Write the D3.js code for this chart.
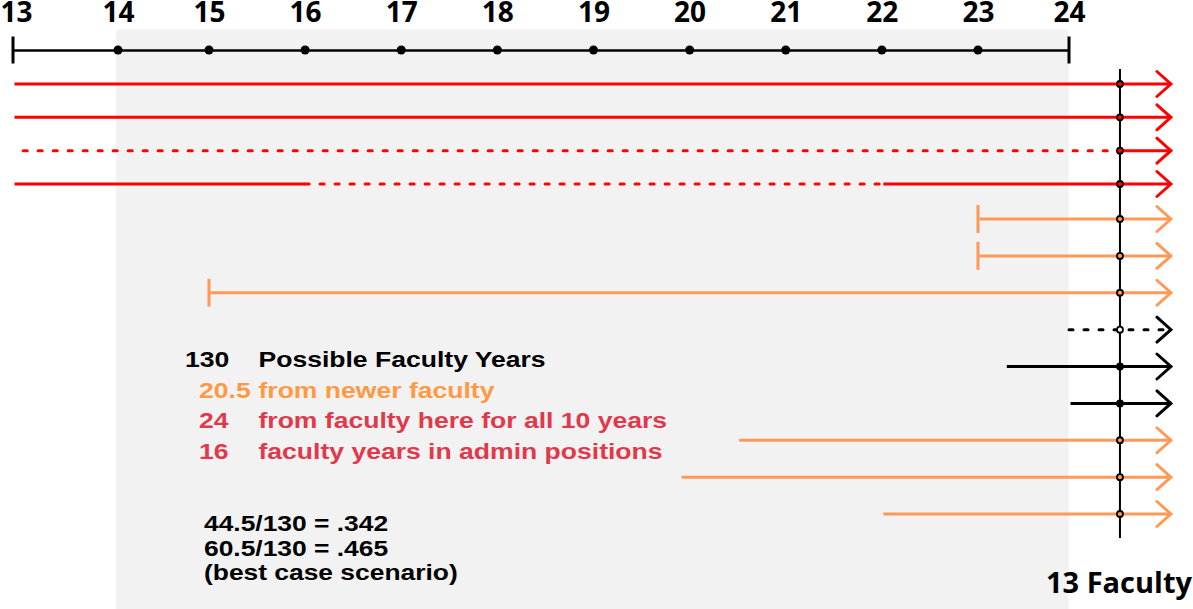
<!DOCTYPE html>
<html>
<head>
<meta charset="utf-8">
<script src="https://cdn.jsdelivr.net/npm/d3@7"></script>
<style>
  html, body { margin: 0; padding: 0; background: #ffffff; }
  svg { display: block; }
</style>
</head>
<body>
<svg id="chart" width="1193" height="609"></svg>
<script>
// ---------- data ----------
const years = [13, 14, 15, 16, 17, 18, 19, 20, 21, 22, 23, 24];
const yearLabels = ["13", "14", "15", "16", "17", "18", "19", "20", "21", "22", "23", "24"];

// one row per faculty member: start year and group
const rowStart = [13, 13, 13, 13, 23, 23, 15, 24, 23.3, 24, 20.5, 19.9, 22];
const rowGroup = ["full", "full", "full", "full", "newer", "newer", "newer",
                  "other", "other", "other", "newer", "newer", "newer"];
const rowStartBar = [0, 0, 0, 0, 1, 1, 1, 0, 0, 0, 0, 0, 0];
// dashed spans: [row, fromYear, toYear]
const NOW_YEAR = 24.56;
const ARROW_YEAR = 25.12;
const dashedSpans = [[2, 13, NOW_YEAR], [3, 16, 22], [7, 24, ARROW_YEAR]];

const legendNums = ["130", "20.5", "24", "16"];
const legendTexts = ["Possible Faculty Years", "from newer faculty",
                     "from faculty here for all 10 years", "faculty years in admin positions"];
const legendGroups = ["total", "newer", "full", "full"];

const notes = ["44.5/130 = .342", "60.5/130 = .465", "(best case scenario)"];
const footLabel = "13 Faculty";

// ---------- styles ----------
const lineColor = { full: "#ff0000", newer: "#ff9955", other: "#000000" };
const textColor = { total: "#000000", newer: "#ff9944", full: "#e0394b" };
const sansWide = "'Liberation Sans', Arial, sans-serif";
const openSans = "'Open Sans', sans-serif";

const svg = d3.select("#chart");

// scales
const x = d3.scaleLinear().domain([13, 14, 15, 23, 24]).range([13, 118, 209, 978, 1069]);
const yRow = d3.scaleLinear().domain([0, 3, 4, 12]).range([84, 184, 219, 514]);
const AXIS_Y = 50;

// grey panel
svg.append("rect")
  .attr("x", x(14) - 2).attr("y", 29.5)
  .attr("width", x(24) - x(14) + 1.5).attr("height", 640)
  .attr("rx", 4)
  .attr("fill", "#f2f2f2");

// ---------- axis ----------
const axis = d3.axisTop(x)
  .tickValues(years)
  .tickFormat((d, i) => yearLabels[i])
  .tickSizeInner(0).tickSizeOuter(0)
  .tickPadding(28.5);

const gAxis = svg.append("g").attr("transform", `translate(0,${AXIS_Y})`).call(axis);
gAxis.select(".domain").attr("stroke", "#000").attr("stroke-width", 2.6);
gAxis.selectAll(".tick text")
  .attr("fill", "#000")
  .style("font-family", openSans)
  .style("font-weight", 700)
  .style("font-size", "28px");
gAxis.selectAll(".tick").filter((d, i) => i === 0).select("text")
  .attr("text-anchor", "start").attr("x", -x(13));

// interior dots and end bars
gAxis.selectAll("circle.tickdot")
  .data(years.slice(1, -1))
  .join("circle")
  .attr("class", "tickdot")
  .attr("cx", d => x(d)).attr("cy", 0).attr("r", 4.5)
  .attr("fill", "#000");
gAxis.selectAll("line.endbar")
  .data([years[0], years[years.length - 1]])
  .join("line")
  .attr("class", "endbar")
  .attr("x1", d => x(d)).attr("x2", d => x(d))
  .attr("y1", -13.5).attr("y2", 13.5)
  .attr("stroke", "#000").attr("stroke-width", 3);

// ---------- rows ----------
function pieces(r) {
  const start = rowStart[r], end = ARROW_YEAR;
  const spans = dashedSpans.filter(s => s[0] === r);
  const pts = new Set([start, end]);
  spans.forEach(s => { pts.add(s[1]); pts.add(s[2]); });
  const arr = [...pts].filter(v => v >= start && v <= end).sort((a, b) => a - b);
  const out = [];
  for (let i = 0; i < arr.length - 1; i++) {
    const a = arr[i], b = arr[i + 1], m = (a + b) / 2;
    out.push({ row: r, from: a, to: b, dashed: spans.some(s => m > s[1] && m < s[2]) });
  }
  return out;
}
const allPieces = d3.range(rowStart.length).flatMap(pieces);

const gRows = svg.append("g");
gRows.selectAll("line.piece")
  .data(allPieces)
  .join("line")
  .attr("class", "piece")
  .attr("x1", d => x(d.from) + (d.dashed ? 0 : 1.5)).attr("x2", d => x(d.to))
  .attr("y1", d => yRow(d.row)).attr("y2", d => yRow(d.row))
  .attr("stroke", d => lineColor[rowGroup[d.row]])
  .attr("stroke-width", 3)
  .attr("stroke-linecap", d => d.dashed ? "round" : "butt")
  .attr("stroke-dasharray", d => d.dashed ? "4,11" : null)
  .attr("stroke-dashoffset", d => (d.dashed && d.from === years[0]) ? 4.8 : 0);

// start bars
gRows.selectAll("line.startbar")
  .data(d3.range(rowStart.length).filter(r => rowStartBar[r]))
  .join("line")
  .attr("class", "startbar")
  .attr("x1", r => x(rowStart[r])).attr("x2", r => x(rowStart[r]))
  .attr("y1", r => yRow(r) - 14).attr("y2", r => yRow(r) + 14)
  .attr("stroke", r => lineColor[rowGroup[r]])
  .attr("stroke-width", 3);

// arrow heads
gRows.selectAll("path.arrow")
  .data(d3.range(rowStart.length))
  .join("path")
  .attr("class", "arrow")
  .attr("d", r => {
    const tx = x(ARROW_YEAR), ty = yRow(r);
    return `M${tx - 14},${ty - 12.5}L${tx},${ty}L${tx - 14},${ty + 12.5}`;
  })
  .attr("fill", "none")
  .attr("stroke", r => lineColor[rowGroup[r]])
  .attr("stroke-width", 3)
  .attr("stroke-linecap", "round");

// now line
svg.append("line")
  .attr("x1", x(NOW_YEAR)).attr("x2", x(NOW_YEAR))
  .attr("y1", yRow(0) - 15).attr("y2", yRow(rowStart.length - 1) + 24)
  .attr("stroke", "#000").attr("stroke-width", 2);

// now markers
svg.append("g").selectAll("circle")
  .data(d3.range(rowStart.length))
  .join("circle")
  .attr("cx", x(NOW_YEAR)).attr("cy", r => yRow(r)).attr("r", 3)
  .attr("fill", r => dashedSpans.some(s => s[0] === r && NOW_YEAR > s[1] && NOW_YEAR < s[2])
        ? "#ffffff" : lineColor[rowGroup[r]])
  .attr("stroke", "#000").attr("stroke-width", 1.8);

// ---------- legend text ----------
const legY = [367, 397.5, 428, 459];
const numX = [185, 199, 199, 199];
const gLeg = svg.append("g")
  .style("font-family", sansWide).style("font-weight", 700).style("font-size", "22.5px");
gLeg.selectAll("text.num")
  .data(legendNums)
  .join("text")
  .attr("class", "num")
  .attr("transform", (d, i) => `translate(${numX[i]},${legY[i]}) scale(1.18,1)`)
  .attr("fill", (d, i) => textColor[legendGroups[i]])
  .text(d => d);
gLeg.selectAll("text.lab")
  .data(legendTexts)
  .join("text")
  .attr("class", "lab")
  .attr("transform", (d, i) => `translate(258.5,${legY[i]}) scale(1.18,1)`)
  .attr("fill", (d, i) => textColor[legendGroups[i]])
  .text(d => d);

// notes
svg.append("g")
  .style("font-family", sansWide).style("font-weight", 700).style("font-size", "22px")
  .selectAll("text")
  .data(notes)
  .join("text")
  .attr("transform", (d, i) => `translate(204,${531 + i * 24.5}) scale(1.2,1)`)
  .attr("fill", "#000")
  .text(d => d);

// footer label
svg.append("text")
  .attr("x", 1192).attr("y", 593)
  .attr("text-anchor", "end")
  .style("font-family", openSans).style("font-weight", 700).style("font-size", "29px")
  .attr("fill", "#000")
  .text(footLabel);
</script>
</body>
</html>
